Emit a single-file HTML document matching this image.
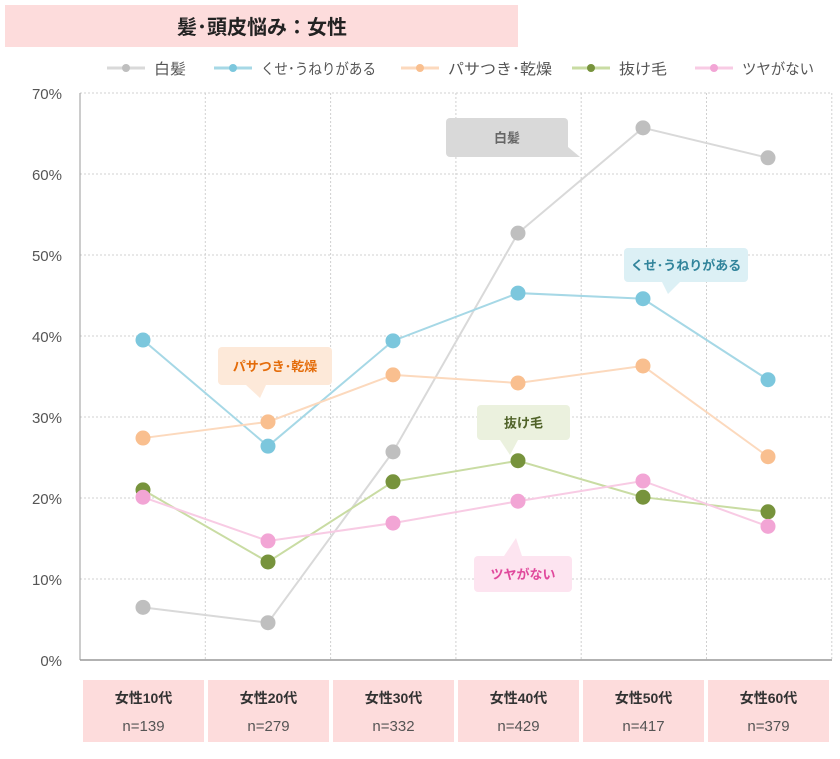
<!DOCTYPE html>
<html><head><meta charset="utf-8"><style>
body{margin:0;width:840px;height:754px;background:#fff;overflow:hidden;font-family:"Liberation Sans","Noto Sans CJK JP",sans-serif;}
</style></head><body>
<svg id="c" width="840" height="754" xmlns="http://www.w3.org/2000/svg">
<rect x="5" y="5" width="513" height="42" fill="#fddcdc"/>
<text x="262" y="34" text-anchor="middle" font-size="20" font-weight="bold" fill="#222" font-family="Liberation Sans,Noto Sans CJK JP,sans-serif">髪･頭皮悩み：女性</text>
<g id="grid"></g><g id="legend"></g><g id="callouts"></g><g id="series"></g><g id="xcats"></g>
</svg>
<script>
const categories=["女性10代","女性20代","女性30代","女性40代","女性50代","女性60代"];
const samples=["n=139","n=279","n=332","n=429","n=417","n=379"];
const yTicks=[0,10,20,30,40,50,60,70];
const seriesNames=["白髪","くせ･うねりがある","パサつき･乾燥","抜け毛","ツヤがない"];
const shiraga=[6.5,4.6,25.7,52.7,65.7,62.0];
const kuse=[39.5,26.4,39.4,45.3,44.6,34.6];
const pasatsuki=[27.4,29.4,35.2,34.2,36.3,25.1];
const nukege=[21.0,12.1,22.0,24.6,20.1,18.3];
const tsuya=[20.1,14.7,16.9,19.6,22.1,16.5];
const seriesData=[shiraga,kuse,pasatsuki,nukege,tsuya];
const lineCols=["#d9d9d9","#a6d8e6","#fcd9bd","#c9dca3","#f8cbe4"];
const dotCols=["#bfbfbf","#7cc7dd","#f9bf8f","#77933c","#f2a5d5"];
const NS="http://www.w3.org/2000/svg";
const X0=80,X1=832,Y0=660,Y1=93;
const xS=i=>143+i*125;
const yS=v=>Y0-(v/70)*(Y0-Y1);
function mk(p,t,a){const e=document.createElementNS(NS,t);for(const k in a)e.setAttribute(k,a[k]);p.appendChild(e);return e;}
const g=document.getElementById('grid');
yTicks.forEach(t=>{
  const y=yS(t);
  if(t>0){const l=mk(g,'line',{x1:X0,x2:X1,y1:y,y2:y,stroke:'#d0d0d0','stroke-dasharray':'2,2'});
  
  }
  const tx=mk(g,'text',{x:62,y:y+6,'text-anchor':'end','font-size':15,fill:'#555'});tx.textContent=t+'%';
  
  
});
for(let i=1;i<=6;i++){const x=X0+i*125.3;const l=mk(g,'line',{x1:x,x2:x,y1:Y1,y2:Y0,stroke:'#d0d0d0','stroke-dasharray':'2,2'});

}
const ax=mk(g,'line',{x1:X0,x2:X0,y1:Y1,y2:Y0,stroke:'#999'});


const bx=mk(g,'line',{x1:X0,x2:X1,y1:Y0,y2:Y0,stroke:'#999','stroke-width':1.5});


// legend
const lg=document.getElementById('legend');
const lx=[107,214,401,572,695];
const lw=[32,115,104,48,72];
seriesNames.forEach((n,i)=>{
  const gg=mk(lg,'g',{});
  
  
  mk(gg,'line',{x1:lx[i],x2:lx[i]+38,y1:68,y2:68,stroke:lineCols[i],'stroke-width':3});
  mk(gg,'circle',{cx:lx[i]+19,cy:68,r:4,fill:dotCols[i]});
  const t=mk(gg,'text',{x:lx[i]+47,y:74,'font-size':15,fill:'#555',textLength:lw[i],lengthAdjust:'spacingAndGlyphs'});t.textContent=n;
});
// callouts
const cg=document.getElementById('callouts');
const callouts=[
 {t:"白髪",x:446,y:118,w:122,h:39,fill:"#d9d9d9",col:"#666",p:"558,157 580,157 568,147"},
 {t:"くせ･うねりがある",x:624,y:248,w:124,h:34,fill:"#dcf0f5",col:"#31849b",p:"662,282 680,282 668,294"},
 {t:"パサつき･乾燥",x:218,y:347,w:114,h:38,fill:"#fde9d9",col:"#e46c0a",p:"246,385 266,385 260,398"},
 {t:"抜け毛",x:477,y:405,w:93,h:35,fill:"#ebf1de",col:"#4f6228",p:"500,440 518,440 510,455"},
 {t:"ツヤがない",x:474,y:556,w:98,h:36,fill:"#fde4f0",col:"#e0489c",p:"504,556 522,556 516,538"}
];
callouts.forEach((c,i)=>{
  const gg=mk(cg,'g',{});
  
  
  mk(gg,'rect',{x:c.x,y:c.y,width:c.w,height:c.h,rx:4,fill:c.fill});
  mk(gg,'polygon',{points:c.p,fill:c.fill});
  const t=mk(gg,'text',{x:c.x+c.w/2,y:c.y+c.h/2+5,'text-anchor':'middle','font-size':13,'font-weight':'bold',fill:c.col});t.textContent=c.t;
});
// series
const sg=document.getElementById('series');
seriesData.forEach((d,s)=>{
  const gg=mk(sg,'g',{});
  
  
  const pl=mk(gg,'polyline',{points:d.map((v,i)=>xS(i)+','+yS(v)).join(' '),fill:'none',stroke:lineCols[s],'stroke-width':2});
  
  
  d.forEach((v,i)=>{const c=mk(gg,'circle',{cx:xS(i),cy:yS(v),r:7.5,fill:dotCols[s]});
  
  });
});
// categories
const xg=document.getElementById('xcats');
categories.forEach((c,i)=>{
  const gg=mk(xg,'g',{});
  
  
  const x=83+i*125;
  mk(gg,'rect',{x:x,y:680,width:121,height:62,fill:'#fddcdc'});
  const t=mk(gg,'text',{x:x+60.5,y:703,'text-anchor':'middle','font-size':14,'font-weight':'bold',fill:'#333'});t.textContent=c;
  const n=mk(gg,'text',{x:x+60.5,y:731,'text-anchor':'middle','font-size':15,fill:'#555'});n.textContent=samples[i];
});
</script>
</body></html>
